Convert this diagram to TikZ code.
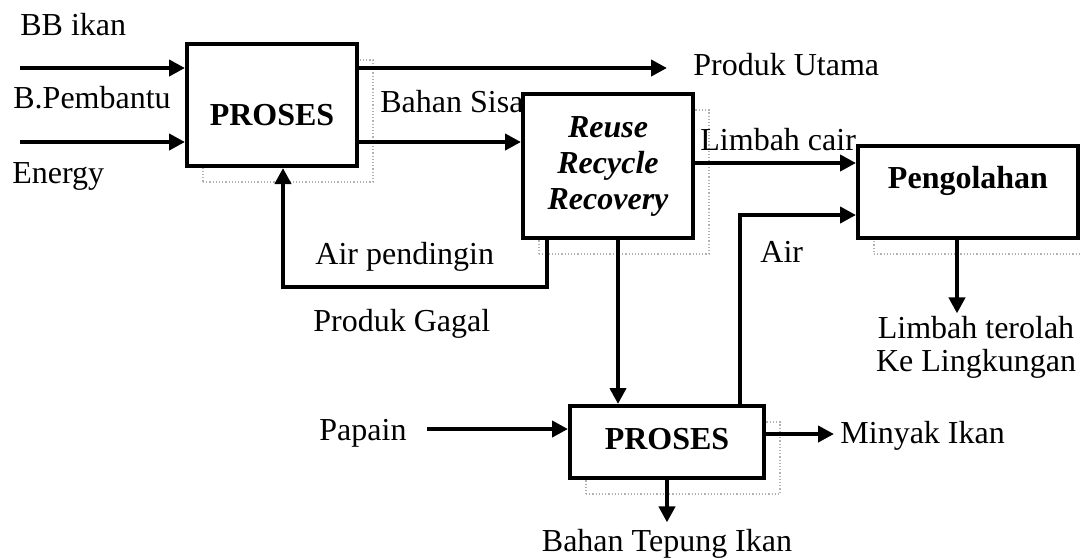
\documentclass[tikz,border=0pt]{standalone}
\usepackage{fontspec}
\setmainfont{Liberation Serif}
\usetikzlibrary{arrows.meta,shadows}

\begin{document}
\begin{tikzpicture}[
  x=0.5pt, y=-0.5pt,
  font=\fontsize{16}{17.5}\selectfont,
  box/.style={draw, line width=2pt, fill=white, align=center, inner sep=0pt,
              drop shadow={shadow xshift=8pt, shadow yshift=-8pt, fill=none,
                           draw=black!60, densely dotted, line width=0.6pt}},
  lbl/.style={inner sep=0pt, anchor=base west},
  flow/.style={line width=2pt, -{Triangle[length=8pt, width=8pt]}}
]
\useasboundingbox (0,0) rectangle (1081,559);

% proses utama dan unit 3R
\node[box, minimum width=85pt, minimum height=61pt, text height=20pt, text depth=0pt]
  (proses1) at (272,105) {\bfseries PROSES};
\node[box, minimum width=85pt, minimum height=72pt, font=\fontsize{16}{18}\selectfont]
  (reuse) at (608,166)
  {\bfseries\itshape Reuse\\\bfseries\itshape Recycle\\\bfseries\itshape Recovery};
\node[box, minimum width=110pt, minimum height=46pt, text height=0pt, text depth=4pt]
  (olah) at (968,192) {\bfseries Pengolahan};
\node[box, minimum width=97pt, minimum height=36pt, text height=7pt, text depth=0pt]
  (proses2) at (667,442) {\bfseries PROSES};

% teks masukan dan keluaran
\node[lbl] (bbikan) at (20,35) {BB ikan};
\node[lbl] (pembantu) at (13,108) {B.Pembantu};
\node[lbl] (energy) at (12,183) {Energy};
\node[lbl] (utama) at (693,75) {Produk Utama};
\node[lbl] (sisa) at (380,112) {Bahan Sisa};
\node[lbl] (cair) at (700,150) {Limbah cair};
\node[lbl] (pendingin) at (315,264) {Air pendingin};
\node[lbl] (gagal) at (313,331) {Produk Gagal};
\node[lbl] (air) at (760,262) {Air};
\node[lbl] (papain) at (319,440) {Papain};
\node[lbl] (minyak) at (840,443) {Minyak Ikan};
\node[inner sep=0pt, anchor=base, align=center, font=\fontsize{16}{16.5}\selectfont]
  (terolah) at (976,371) {Limbah terolah\\Ke Lingkungan};
\node[inner sep=0pt, anchor=base] (tepung) at (667,551) {Bahan Tepung Ikan};

\coordinate (in1) at ([yshift=18.5pt]proses1.west);
\coordinate (in2) at ([yshift=-18.5pt]proses1.west);
\coordinate (cairIn) at ([yshift=1.5pt]reuse.east);

\draw[flow] (bbikan.west |- in1) -- (in1);
\draw[flow] (bbikan.west |- in2) -- (in2);
\draw[flow, shorten >=13pt] (in1 -| proses1.east) -- (in1 -| utama.west);
\draw[flow] (in2 -| proses1.east) -- (in2 -| reuse.west);
\draw[flow] (cairIn) -- (cairIn -| olah.west);
\draw[flow] ([xshift=-30.5pt]reuse.south) -- ++(0pt,-23.5pt)
  -| ([xshift=5.5pt]proses1.south);
\draw[flow] ([xshift=5pt]reuse.south) -- ([xshift=5pt]reuse.south |- proses2.north);
\draw[flow] ([xshift=36.5pt]proses2.north) |- ([yshift=-11.5pt]olah.west);
\draw[flow, shorten <=10pt] ([yshift=6.5pt]proses2.west -| papain.east)
  -- ([yshift=6.5pt]proses2.west);
\draw[flow, shorten >=3pt] ([yshift=4pt]proses2.east) -- ([yshift=4pt]proses2.east -| minyak.west);
\draw[flow, shorten >=3pt] (proses2.south) -- (tepung.north);
\draw[flow, shorten >=1pt] ([xshift=-5.5pt]olah.south) -- ([xshift=-5.5pt]olah.south |- terolah.north);
\end{tikzpicture}
\end{document}
